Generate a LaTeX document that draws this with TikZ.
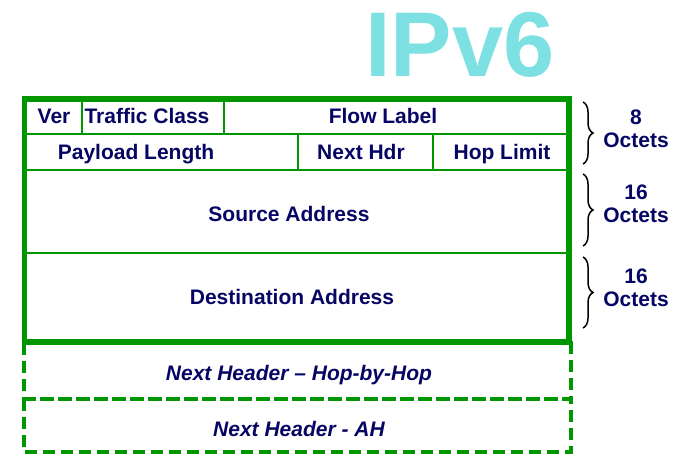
\documentclass[tikz,border=0pt]{standalone}
\usepackage{fontspec}
\setmainfont{Liberation Sans}
\usetikzlibrary{decorations.pathreplacing}
\definecolor{navy}{RGB}{5,5,100}
\definecolor{hdrgreen}{RGB}{0,150,0}
\definecolor{ipcyan}{RGB}{125,225,228}

\begin{document}
\begin{tikzpicture}[x=1pt, y=-1pt,
    field/.style={text=navy, font=\bfseries\fontsize{21}{25}\selectfont,
        inner sep=0pt, anchor=base},
    ext/.style={field, font=\bfseries\itshape\fontsize{21}{25}\selectfont},
    octets/.style={text=navy, align=center, inner sep=0pt,
        font=\bfseries\fontsize{21}{23}\selectfont},
    cell/.style={draw=hdrgreen, line width=2pt},
    hdrbox/.style={draw=hdrgreen, line width=4.5pt},
    dashbox/.style={hdrbox, dash pattern=on 12pt off 6pt},
    octbrace/.style={draw, line width=1.5pt, decorate,
        decoration={brace, amplitude=10pt}},
    title/.style={inner sep=0pt, font=\bfseries\fontsize{92}{92}\selectfont}
    ]
    \useasboundingbox (0,0) rectangle (682,454);

    \node[title, text=ipcyan] (ipv6) at (460,45) {IPv6};

    \draw[dashbox] (24,343) rectangle (571,399);
    \draw[dashbox] (24,399) rectangle (571,452);

    \draw[cell] (26,101) rectangle (567,340);
    \foreach \y in {134,170,253}
        \draw[cell] (26,\y) -- (567,\y);
    \draw[cell] (82,101) -- (82,134);
    \draw[cell] (224,101) -- (224,134);
    \draw[cell] (298,134) -- (298,170);
    \draw[cell] (433,134) -- (433,170);
    \draw[hdrbox] (24,98) rectangle (570,343);

    \node[field] (ver) at (54,124) {Ver};
    \node[field] (tclass) at (147,124) {Traffic Class};
    \node[field] (flow) at (383,124) {Flow Label};
    \node[field] (plen) at (136,160) {Payload Length};
    \node[field] (nhdr) at (361,160) {Next Hdr};
    \node[field] (hlim) at (502,160) {Hop Limit};
    \node[field] (src) at (289,222) {Source Address};
    \node[field] (dst) at (292,304) {Destination Address};
    \node[ext] (hbh) at (299,380) {Next Header -- Hop-by-Hop};
    \node[ext] (ah) at (299,436) {Next Header - AH};

    \draw[octbrace] (583,102) -- (583,164);
    \draw[octbrace] (583,174) -- (583,246);
    \draw[octbrace] (583,257) -- (583,328);

    \node[octets] (oct1) at (636,129) {8\\Octets};
    \node[octets] (oct2) at (636,204) {16\\Octets};
    \node[octets] (oct3) at (636,288) {16\\Octets};
\end{tikzpicture}
\end{document}
